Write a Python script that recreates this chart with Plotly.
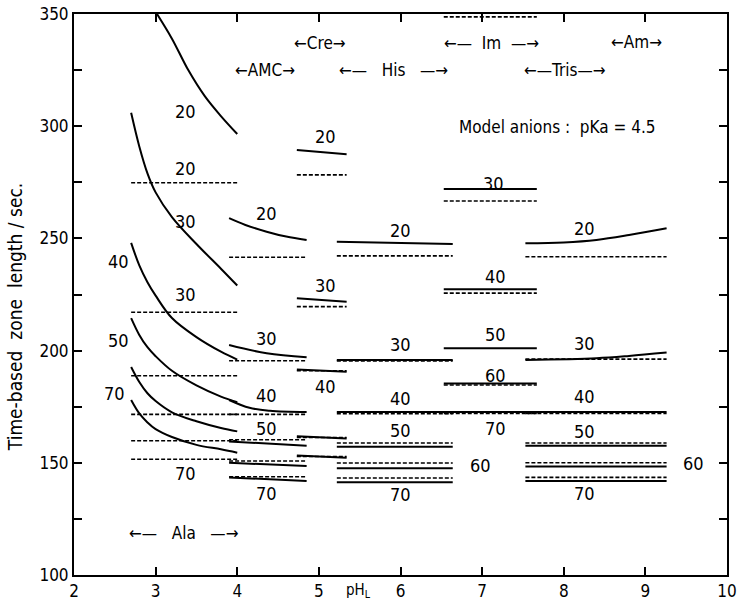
import plotly.graph_objects as go

FONT = "Liberation Sans Narrow, DejaVu Sans Condensed, Arial Narrow, sans-serif"

# ---------------- data ----------------
MOBILITIES = [20, 30, 40, 50, 60, 70]

# Ala region: curved model (solid) lines, flat dashed lines
ALA_RANGE = [2.7, 4.0]
ALA_X = [2.7, 2.8, 2.9, 3.0, 3.2, 3.5, 3.8, 4.0]
ALA_S20_X = [3.0, 3.2, 3.4, 3.6, 3.8, 4.0]
ALA_S20 = [351, 339, 325, 313.5, 304.5, 296.5]
ALA_S30 = [306, 291, 279, 270.5, 259.5, 247.5, 236.5, 229]
ALA_S40 = [248, 238, 230.5, 224.5, 214.5, 206, 199.5, 196]
ALA_S50 = [214.5, 207, 201.5, 197.5, 191, 184.5, 179.5, 177]
ALA_S60 = [192.7, 186, 181, 177.5, 172.5, 168.5, 165.5, 164]
ALA_S70 = [178, 172, 168, 165, 161.5, 158, 156, 154.5]
ALA_DASHED = [274.8, 217.1, 188.8, 171.6, 159.8, 151.6]

# AMC region
AMC_RANGE = [3.9, 4.85]
AMC_S20_X = [3.9, 4.1, 4.36, 4.6, 4.85]
AMC_S20 = [259, 256, 253, 250.8, 249.3]
AMC_S30_X = [3.9, 4.36, 4.85]
AMC_S30 = [202.5, 198.8, 197]
AMC_S40_X = [3.9, 4.15, 4.4, 4.85]
AMC_S40 = [178, 174.5, 173.2, 172.6]
AMC_S50 = [159.5, 157.6]
AMC_S60 = [150, 148.6]
AMC_S70 = [143.5, 141.9]
AMC_DASHED = [241.6, 195.5, 171.6, 160.3, 150.8, 143.8]

# Cre region (mobilities 20..60)
CRE_RANGE = [4.73, 5.34]
CRE_SOLID_START = [289.4, 223.3, 191.6, 161.8, 153.2]
CRE_SOLID_END = [287.5, 221.8, 190.6, 160.8, 152.2]
CRE_DASHED = [278.3, 219.6, 191.0, 161.3, 152.8]

# His region
HIS_RANGE = [5.22, 6.64]
HIS_SOLID_START = [248.5, 195.8, 172.6, 157.2, 147.6, 141.3]
HIS_SOLID_END = [247.5, 195.8, 172.6, 157.2, 147.6, 141.3]
HIS_DASHED = [242.2, 195.4, 171.9, 158.8, 149.9, 143.2]

# Im region
IM_RANGE = [6.53, 7.67]
IM_SOLID_MOB = [30, 40, 50, 60, 70]
IM_SOLID = [272, 227.3, 201, 185.3, 172.6]
IM_DASHED_MOB = [20, 30, 40, 60, 70]
IM_DASHED = [348.7, 266.7, 225.6, 184.7, 172.0]

# Tris / Am region
TRIS_RANGE = [7.53, 9.26]
TRIS_S20_X = [7.53, 8.0, 8.4, 8.8, 9.26]
TRIS_S20 = [247.8, 248.2, 249.3, 251.5, 254.5]
TRIS_S30_X = [7.53, 8.4, 8.8, 9.26]
TRIS_S30 = [195.8, 196.6, 197.6, 199.1]
TRIS_SOLID_FLAT = [172.6, 157.6, 148.3, 141.9]   # mobilities 40..70
TRIS_DASHED = [241.8, 196.2, 172.0, 158.8, 150.0, 143.5]

# curve labels
LABEL_X = [3.36, 3.36, 3.36, 2.54, 3.36, 2.54, 2.50, 3.36,
           5.08, 5.08, 5.08,
           4.36, 4.36, 4.36, 4.36, 4.36,
           6.0, 6.0, 6.0, 6.0, 6.0, 6.98,
           7.14, 7.16, 7.16, 7.16, 7.16,
           8.26, 8.26, 8.26, 8.26, 9.59, 8.26]
LABEL_Y = [306.5, 281.2, 257.4, 239.6, 224.8, 204.7, 181.0, 145.3,
           295.3, 229.2, 183.9,
           261.2, 205.5, 180.2, 165.4, 136.4,
           253.7, 202.5, 178.7, 164.6, 135.7, 149.0,
           274.6, 232.9, 207.0, 189.1, 165.4,
           254.5, 203.3, 179.5, 163.9, 149.8, 136.4]
LABEL_TEXT = ["20", "20", "30", "40", "30", "50", "70", "70",
              "20", "30", "40",
              "20", "30", "40", "50", "70",
              "20", "30", "40", "50", "70", "60",
              "30", "40", "50", "60", "70",
              "20", "30", "40", "50", "60", "70"]

# buffer range labels
NB = "\u00a0"
BUF_X = [3.35, 4.34, 5.01, 5.91, 7.11, 8.02, 8.89]
BUF_Y = [118.6, 325, 337, 325, 337, 325, 337.5]
BUF_TEXT = ["\u2190\u2014" + NB * 3 + "Ala" + NB * 3 + "\u2014\u2192",
            "\u2190AMC\u2192",
            "\u2190Cre\u2192",
            "\u2190\u2014" + NB * 3 + "His" + NB * 3 + "\u2014\u2192",
            "\u2190\u2014" + NB * 2 + "Im" + NB * 2 + "\u2014\u2192",
            "\u2190\u2014Tris\u2014\u2192",
            "\u2190Am\u2192"]

X_TICKS = [2, 3, 4, 5, 6, 7, 8, 9, 10]
Y_TICKS = [100, 150, 200, 250, 300, 350]
Y_MINOR_STEP = 25

# ---------------- figure ----------------
fig = go.Figure()
SOLID = dict(color="black", width=2)
DASHED = dict(color="black", width=1.6, dash="4px,2px")


def add(x, y, style):
    fig.add_trace(go.Scatter(x=x, y=y, mode="lines", line=style,
                             showlegend=False, hoverinfo="skip",
                             line_shape="spline" if len(x) > 2 else "linear"))


# Ala
add(ALA_S20_X, ALA_S20, SOLID)
for ys in [ALA_S30, ALA_S40, ALA_S50, ALA_S60, ALA_S70]:
    add(ALA_X, ys, SOLID)
for v in ALA_DASHED:
    add(ALA_RANGE, [v, v], DASHED)

# AMC
add(AMC_S20_X, AMC_S20, SOLID)
add(AMC_S30_X, AMC_S30, SOLID)
add(AMC_S40_X, AMC_S40, SOLID)
for ys in [AMC_S50, AMC_S60, AMC_S70]:
    add(AMC_RANGE, ys, SOLID)
for v in AMC_DASHED:
    add(AMC_RANGE, [v, v], DASHED)

# Cre
for a, b in zip(CRE_SOLID_START, CRE_SOLID_END):
    add(CRE_RANGE, [a, b], SOLID)
for v in CRE_DASHED:
    add(CRE_RANGE, [v, v], DASHED)

# His
for a, b in zip(HIS_SOLID_START, HIS_SOLID_END):
    add(HIS_RANGE, [a, b], SOLID)
for v in HIS_DASHED:
    add(HIS_RANGE, [v, v], DASHED)

# Im
for v in IM_SOLID:
    add(IM_RANGE, [v, v], SOLID)
for v in IM_DASHED:
    add(IM_RANGE, [v, v], DASHED)

# Tris / Am
add(TRIS_S20_X, TRIS_S20, SOLID)
add(TRIS_S30_X, TRIS_S30, SOLID)
for v in TRIS_SOLID_FLAT:
    add(TRIS_RANGE, [v, v], SOLID)
for v in TRIS_DASHED:
    add(TRIS_RANGE, [v, v], DASHED)

annotations = []
for x, y, t in zip(LABEL_X, LABEL_Y, LABEL_TEXT):
    annotations.append(dict(x=x, y=y, text=t, showarrow=False,
                            font=dict(family=FONT, size=18, color="black"),
                            xanchor="center", yanchor="middle"))
for x, y, t in zip(BUF_X, BUF_Y, BUF_TEXT):
    annotations.append(dict(x=x, y=y, text=t, showarrow=False,
                            font=dict(family=FONT, size=17, color="black"),
                            xanchor="center", yanchor="middle"))
annotations.append(dict(x=9.15, y=299.8,
                        text="Model anions" + NB + ":" + NB + NB + "pKa" + NB + "=" + NB + "4.5",
                        showarrow=False, font=dict(family=FONT, size=17, color="black"),
                        xanchor="right", yanchor="middle"))
annotations.append(dict(x=5.48, y=-0.008, xref="x", yref="paper",
                        text="pH<sub>L</sub>", showarrow=False,
                        font=dict(family=FONT, size=15, color="black"),
                        xanchor="center", yanchor="top"))
annotations.append(dict(x=-0.09, y=0.46, xref="paper", yref="paper",
                        text="Time-based" + NB * 2 + "zone" + NB * 2 + "length" + NB + "/" + NB + "sec.",
                        textangle=-90, showarrow=False,
                        font=dict(family=FONT, size=19, color="black"),
                        xanchor="center", yanchor="middle"))

axis_common = dict(showgrid=False, zeroline=False, showline=True, linecolor="black",
                   linewidth=2, mirror="ticks", ticks="inside", ticklen=8,
                   tickwidth=2, tickcolor="black", automargin=False,
                   tickfont=dict(family=FONT, size=17, color="black"))

fig.update_layout(
    width=739, height=603,
    margin=dict(l=74, r=12, t=14, b=28),
    paper_bgcolor="white", plot_bgcolor="white",
    xaxis=dict(range=[2, 10], tickvals=X_TICKS, **axis_common),
    yaxis=dict(range=[100, 350], tickvals=Y_TICKS,
               minor=dict(dtick=Y_MINOR_STEP, tick0=100, ticks="inside", ticklen=8,
                          tickwidth=2, tickcolor="black", showgrid=False),
               **axis_common),
    annotations=annotations,
)

fig.write_html("out.html")
